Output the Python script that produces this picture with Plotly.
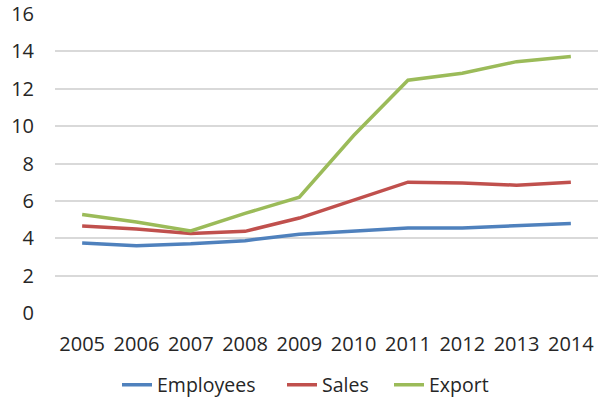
import plotly.graph_objects as go

years = ["2005", "2006", "2007", "2008", "2009", "2010", "2011", "2012", "2013", "2014"]
employees = [3.74, 3.6, 3.7, 3.87, 4.22, 4.37, 4.55, 4.55, 4.68, 4.79]
sales = [4.65, 4.49, 4.25, 4.37, 5.08, 6.04, 7.0, 6.95, 6.84, 7.0]
export = [5.27, 4.87, 4.39, 5.33, 6.2, 9.5, 12.46, 12.83, 13.45, 13.72]

# (name, values, colour, legend id, legend left edge in px)
series = [
    ("Employees", employees, "#4F81BD", "legend", 117),
    ("Sales", sales, "#C0504D", "legend2", 282),
    ("Export", export, "#9BBB59", "legend3", 389),
]

W, H = 598, 402
font_family = "Open Sans, Liberation Sans, sans-serif"

fig = go.Figure()
legends = {}
for name, vals, color, leg, left in series:
    fig.add_trace(go.Scatter(
        x=years, y=vals, name=name, mode="lines",
        line=dict(color=color, width=3.5), legend=leg,
    ))
    legends[leg] = dict(
        orientation="h", xref="container", x=left / W, xanchor="left",
        yref="container", y=0.042, yanchor="middle",
        font=dict(size=19.5), bgcolor="rgba(0,0,0,0)",
    )

fig.update_layout(
    width=W, height=H,
    margin=dict(l=55, r=0, t=14, b=89, autoexpand=False),
    paper_bgcolor="white", plot_bgcolor="white",
    font=dict(family=font_family, size=20, color="#262626"),
    showlegend=True,
    xaxis=dict(
        type="category", range=[-0.5, 9.5],
        showgrid=False, showline=False, zeroline=False,
        ticks="", ticklabelstandoff=17,
    ),
    yaxis=dict(
        range=[0, 16], dtick=2,
        showgrid=True, gridcolor="#D9D9D9", gridwidth=1.5,
        zeroline=False, showline=False,
        ticks="", ticklabelstandoff=20,
    ),
    **legends,
)

fig.write_html("out.html")
